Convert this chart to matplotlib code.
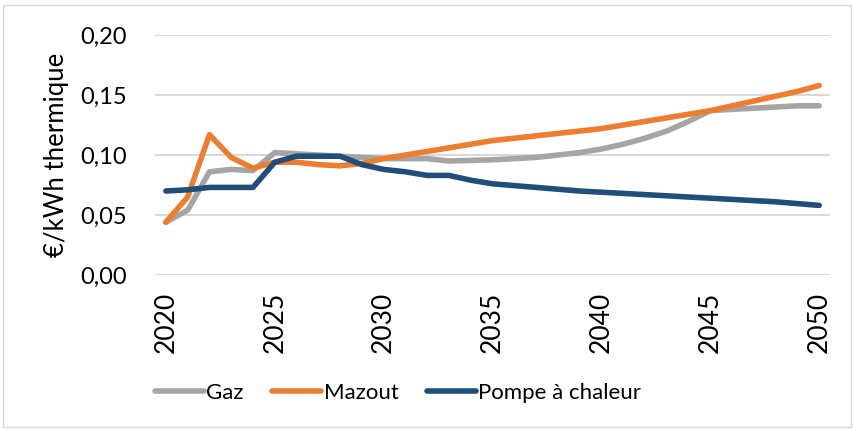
import matplotlib.pyplot as plt
import matplotlib.patches as patches
import numpy as np

plt.rcParams['font.family'] = ['Lato', 'DejaVu Sans']

# Data
years = list(range(2020, 2051))

gaz = [0.044, 0.054, 0.086, 0.088, 0.087, 0.102, 0.101, 0.100, 0.099, 0.098,
       0.097, 0.097, 0.097, 0.095, 0.0955, 0.096, 0.097, 0.098, 0.100, 0.102,
       0.105, 0.109, 0.114, 0.120, 0.128, 0.137, 0.138, 0.139, 0.140, 0.141,
       0.141]

mazout = [0.044, 0.065, 0.117, 0.098, 0.089, 0.094, 0.094, 0.092, 0.091, 0.093,
          0.097, 0.100, 0.103, 0.106, 0.109, 0.112, 0.114, 0.116, 0.118, 0.120,
          0.122, 0.125, 0.128, 0.131, 0.134, 0.137, 0.141, 0.145, 0.149, 0.153,
          0.158]

pompe = [0.070, 0.071, 0.073, 0.073, 0.073, 0.094, 0.099, 0.099, 0.099, 0.092,
         0.088, 0.086, 0.083, 0.083, 0.079, 0.076, 0.0745, 0.073, 0.0715, 0.070,
         0.069, 0.068, 0.067, 0.066, 0.065, 0.064, 0.063, 0.062, 0.061, 0.0595,
         0.058]

yticks = [0.00, 0.05, 0.10, 0.15, 0.20]
xticks = [2020, 2025, 2030, 2035, 2040, 2045, 2050]

fig = plt.figure(figsize=(8.54, 4.30), dpi=100)
ax = fig.add_axes([0.1815, 0.3605, 0.7905, 0.558])

ax.plot(years, gaz, color='#A5A5A5', linewidth=4, solid_capstyle='round', label='Gaz')
ax.plot(years, mazout, color='#ED7D31', linewidth=4, solid_capstyle='round', label='Mazout')
ax.plot(years, pompe, color='#1F4E79', linewidth=4, solid_capstyle='round', label='Pompe à chaleur')

ax.set_xlim(2019.5, 2050.5)
ax.set_ylim(0, 0.2)
ax.set_yticks(yticks)
ax.set_yticklabels([('%.2f' % v).replace('.', ',') for v in yticks])
ax.set_xticks(xticks)
ax.set_xticklabels([str(x) for x in xticks], rotation=90)
ax.tick_params(axis='x', length=0, labelsize=19, pad=12)
ax.tick_params(axis='y', length=0, labelsize=17, pad=20)
ax.grid(axis='y', color='#D9D9D9', linewidth=1.5)
ax.set_axisbelow(True)
for s in ax.spines.values():
    s.set_visible(False)

ax.set_ylabel('€/kWh thermique', fontsize=18.5, labelpad=8)

fig.legend(loc='center left', bbox_to_anchor=(0.158, 0.086), ncol=3, frameon=False,
           fontsize=16, handlelength=2.2, handletextpad=0.1, columnspacing=1.3)

# outer frame
fig.patches.append(patches.Rectangle((3 / 854, 3 / 430), 848 / 854, 422 / 430,
                                     transform=fig.transFigure, fill=False,
                                     edgecolor='#D9D9D9', linewidth=1))

fig.savefig('out.png', dpi=100)
